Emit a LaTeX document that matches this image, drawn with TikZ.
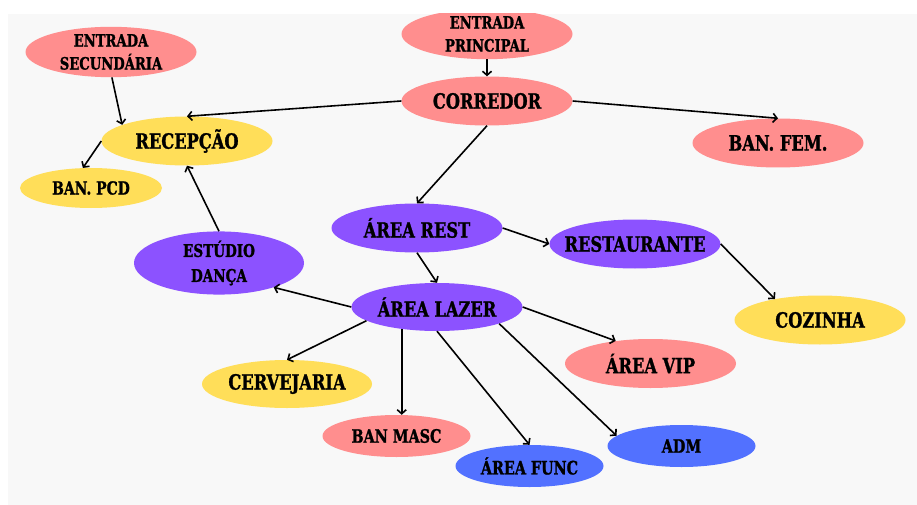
\documentclass[tikz,border=0pt]{standalone}
\usepackage{fontspec}
\newfontfamily\nodefont{DejaVu Serif Condensed}[FakeStretch=0.86, BoldFeatures={FakeBold=1.2}]
\usetikzlibrary{shapes.geometric,arrows.meta}
\definecolor{pinkc}{HTML}{FF8E8E}
\definecolor{yellowc}{HTML}{FFDE59}
\definecolor{purplec}{HTML}{8C52FF}
\definecolor{bluec}{HTML}{5271FF}
\definecolor{panelc}{HTML}{F8F8F8}
\newcommand\lbl[1]{\makebox[0pt][c]{#1}}
\begin{document}
\begin{tikzpicture}[x=1pt,y=-1pt,
  place/.style={ellipse, inner sep=0pt, align=center, minimum width=171pt, minimum height=49pt,
    font=\nodefont\bfseries\fontsize{21}{24}\selectfont},
  smallplace/.style={place, minimum width=148pt, minimum height=42pt,
    font=\nodefont\bfseries\fontsize{18.5}{22}\selectfont},
  twoline/.style={font=\nodefont\bfseries\fontsize{17}{23}\selectfont},
  pinkfill/.style={fill=pinkc},
  yellowfill/.style={fill=yellowc},
  purplefill/.style={fill=purplec},
  bluefill/.style={fill=bluec},
  link/.style={line width=1.6pt, draw=black, -{Straight Barb[length=4pt,width=9pt]}}
]
\useasboundingbox (0,0) rectangle (917,505);
\fill[white] (0,0) rectangle (917,505);
\fill[panelc] (8,14) rectangle (917,505);
\begin{scope}
\clip (8,14) rectangle (917,505);
\node[place, pinkfill, twoline] (esec) at (111,52) {ENTRADA\\SECUNDÁRIA};
\node[place, pinkfill, twoline] (eprin) at (487,34) {ENTRADA\\PRINCIPAL};
\node[place, pinkfill] (corr) at (487,101) {\lbl{CORREDOR}};
\node[place, yellowfill] (recep) at (187,141) {\lbl{RECEPÇÃO}};
\node[place, yellowfill, minimum width=142pt, minimum height=40pt,
  font=\nodefont\bfseries\fontsize{18}{20}\selectfont] (pcd) at (91,188) {\lbl{BAN. PCD}};
\node[place, pinkfill] (banfem) at (778,143) {\lbl{BAN. FEM.}};
\node[place, purplefill] (arest) at (417,228) {\lbl{ÁREA REST}};
\node[place, purplefill] (rest) at (635,244) {\lbl{RESTAURANTE}};
\node[place, yellowfill] (coz) at (820,320) {\lbl{COZINHA}};
\node[place, purplefill, minimum width=170pt,
  font=\nodefont\bfseries\fontsize{17.5}{25}\selectfont] (estudio) at (219,263) {ESTÚDIO\\DANÇA};
\node[place, purplefill, minimum height=48pt] (alazer) at (437,307) {\lbl{ÁREA LAZER}};
\node[place, yellowfill, minimum width=170pt, minimum height=48pt] (cerv) at (287,384) {\lbl{CERVEJARIA}};
\node[place, pinkfill] (avip) at (650.5,363.5) {\lbl{ÁREA VIP}};
\node[smallplace, pinkfill] (banmasc) at (396.5,436) {\lbl{BAN MASC}};
\node[smallplace, bluefill] (afunc) at (529.5,466) {\lbl{ÁREA FUNC}};
\node[smallplace, bluefill] (adm) at (681.5,446) {\lbl{ADM}};
\end{scope}
\draw[link] (esec.-88) -- (recep.166);
\draw[link] (recep.west) -- (pcd.112);
\draw[link] (corr.west) -- (recep.north);
\draw[link] (estudio.north) -- (recep.south);
\draw[link] (eprin.south) -- (corr.north);
\draw[link] (corr.east) -- (banfem.north);
\draw[link] (corr.south) -- (arest.north);
\draw[link] (arest.east) -- (rest.west);
\draw[link] (rest.east) -- (coz.155);
\draw[link] (arest.south) -- (alazer.north);
\draw[link] (alazer.west) -- (estudio.-24);
\draw[link] (alazer.191) -- (cerv.north);
\draw[link] (alazer.212) -- (alazer.212 |- banmasc.north);
\draw[link] (alazer.south) -- (afunc.north);
\draw[link] (alazer.-15) -- (adm.171);
\draw[link] (alazer.east) -- (avip.147);
\end{tikzpicture}
\end{document}
